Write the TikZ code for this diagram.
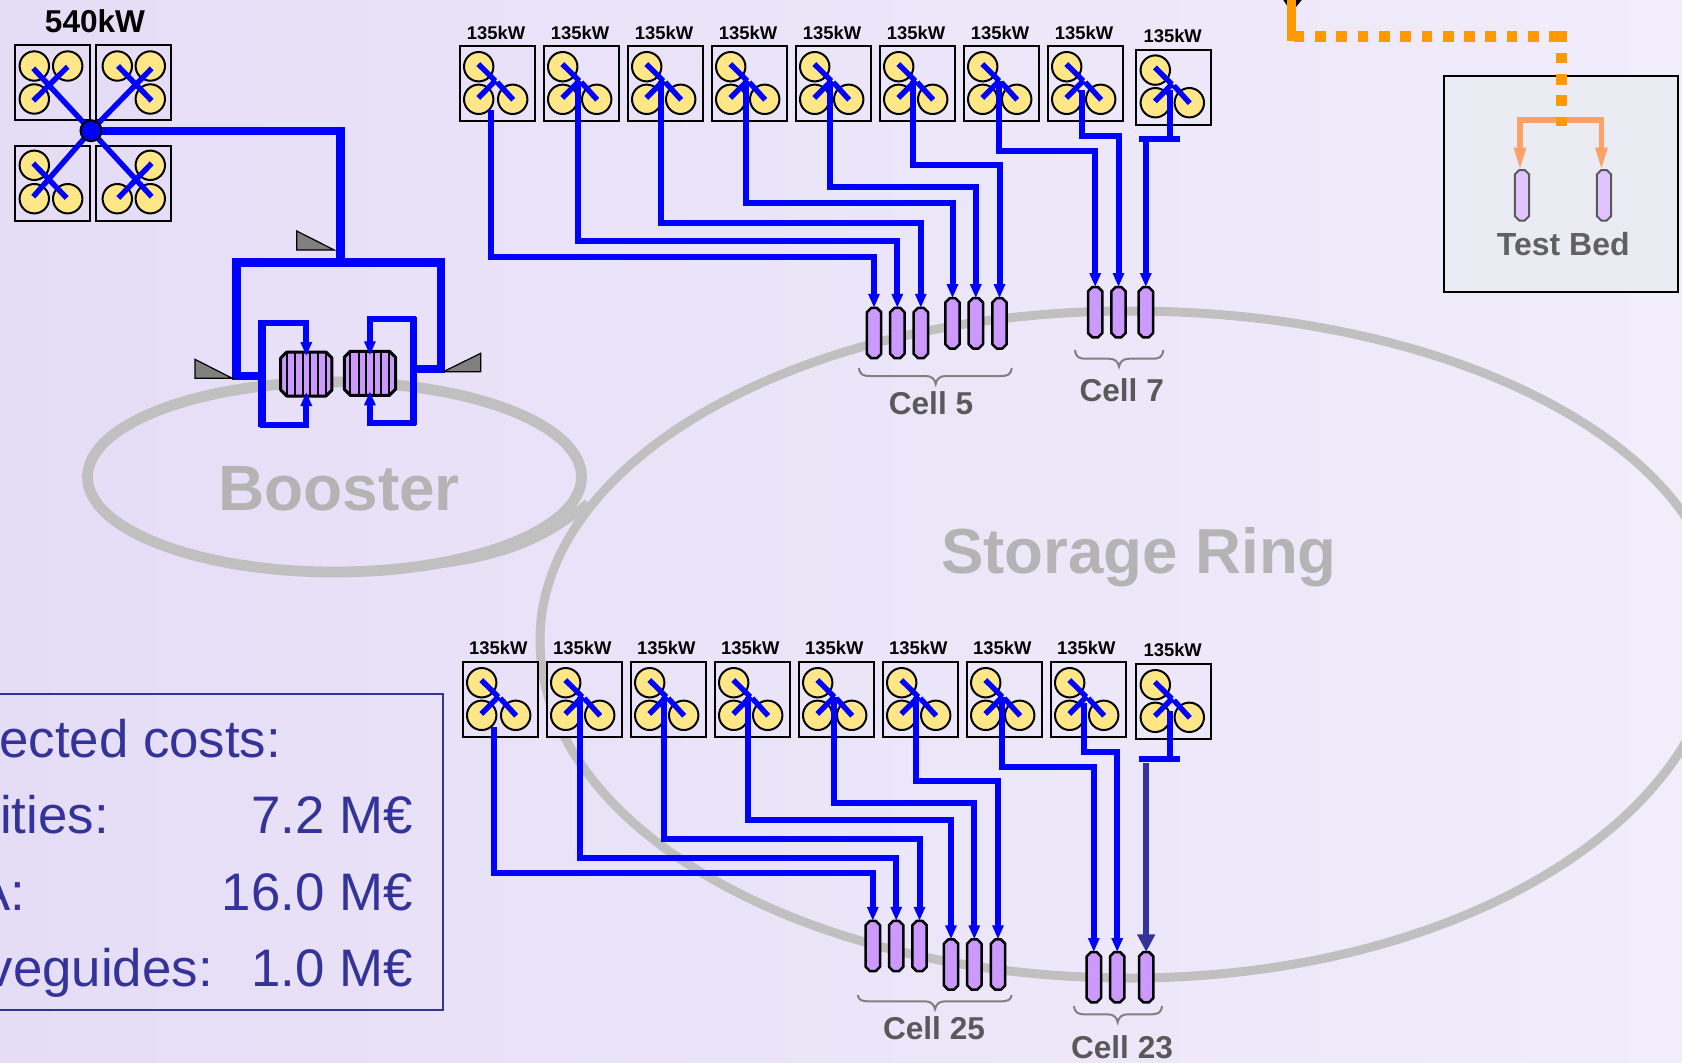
\documentclass[tikz,border=0pt]{standalone}
\usepackage{fontspec}
\setmainfont{Liberation Sans}
\usetikzlibrary{arrows.meta}
\definecolor{bgL}{HTML}{E5DDF6}
\definecolor{bgR}{HTML}{F1EDFB}
\definecolor{ringgray}{HTML}{C0C0C0}
\definecolor{ringtext}{HTML}{B4B4B4}
\definecolor{celltext}{HTML}{595959}
\definecolor{lobeyellow}{HTML}{FFE788}
\definecolor{cavpurple}{HTML}{CC99FF}
\definecolor{wgblue}{HTML}{0000FF}
\definecolor{navy}{HTML}{333399}
\definecolor{wgorange}{HTML}{FF9900}
\definecolor{paleorange}{HTML}{FFA066}
\definecolor{bedfill}{HTML}{EBEBF3}
\definecolor{bedcav}{HTML}{E0C4FF}
\tikzset{
  txt/.style={inner sep=0pt,outer sep=0pt,anchor=base},
  title540/.style={txt,font=\bfseries\fontsize{15.8}{16}\selectfont,text=black},
  lab135/.style={txt,font=\bfseries\fontsize{9.2}{10}\selectfont,text=black},
  celllab/.style={txt,font=\bfseries\fontsize{15.8}{16}\selectfont,text=celltext},
  ringlab/.style={txt,font=\bfseries\fontsize{#1}{#1}\selectfont,text=ringtext},
  costlab/.style={inner sep=0pt,outer sep=0pt,anchor=base east,font=\fontsize{26.4}{27}\selectfont,text=navy},
  ampframe/.style={draw=black,line width=1pt,minimum size=37.5pt,inner sep=0pt,outer sep=0pt,anchor=north west},
  lobe/.style={draw=black,line width=1pt,fill=lobeyellow},
  arm/.style={draw=wgblue,line width=2.7pt},
  feedline/.style={draw=wgblue,line width=3pt},
  feedarrow/.style={feedline,-{Triangle[length=7pt,width=5.4pt]}},
  mainline/.style={draw=wgblue,line width=4.2pt},
  cavbox/.style={rectangle,minimum width=7.2pt,minimum height=25.2pt,inner sep=0pt,outer sep=0pt},
  bigcavbox/.style={rectangle,minimum width=25.6pt,minimum height=22pt,inner sep=0pt,outer sep=0pt},
  cavshape/.style={draw=black,line width=1.25pt,fill=cavpurple,line join=round},
  bigcavshape/.style={draw=black,line width=1.5pt,fill=cavpurple,line join=round},
  bedcavshape/.style={draw=black!65,line width=1pt,fill=bedcav,line join=round},
  cavbar/.style={draw=black,line width=1pt},
  wedge/.style={draw=black,line width=.6pt,fill=gray},
  ring/.style={draw=ringgray,line width=4.5pt},
  bracket/.style={draw=gray,line width=1pt},
  dotorange/.style={draw=wgorange,line width=5.3pt,dash pattern=on 5.35pt off 5.3pt},
  paleline/.style={draw=paleorange,line width=2.9pt,shorten >=-1pt,-{Triangle[length=12.2pt,width=5.3pt]}},
}
\newcommand{\octagonon}[3]{%
  \draw[#1] ([xshift=#3]#2.north west) -- ([xshift=-#3]#2.north east) -- ([yshift=-#3]#2.north east)
    -- ([yshift=#3]#2.south east) -- ([xshift=-#3]#2.south east) -- ([xshift=#3]#2.south west)
    -- ([yshift=#3]#2.south west) -- ([yshift=-#3]#2.north west) -- cycle;
}
\newcommand{\ampunit}[3]{%
  \pgfmathtruncatemacro{\mixpct}{(#2)/16.82}%
  \node[ampframe,fill=bgR!\mixpct!bgL] (#1) at (#2+1,#3+1) {};
  \draw[lobe] (#2+20,#3+21.4) circle[radius=14.7];
  \draw[lobe] (#2+20,#3+54) circle[radius=14.7];
  \draw[lobe] (#2+54,#3+54) circle[radius=14.7];
  \draw[arm] (#2+19.6,#3+18.7) -- (#2+36.5,#3+35.5);
  \draw[arm] (#2+19.6,#3+52.7) -- (#2+37,#3+35);
  \draw[arm] (#2+38.6,#3+37) -- (#2+54.5,#3+54.5);
}
\newcommand{\cellbrace}[5]{%
  \draw[bracket] (#1,#4) .. controls (#1+1,#5-9) and (#1+4,#5-8) .. (#1+12,#5-8) -- (#2-10,#5-8)
    .. controls (#2-4,#5-8) and (#2-1,#5-5) .. (#2,#5)
    .. controls (#2+1,#5-5) and (#2+4,#5-8) .. (#2+10,#5-8) -- (#3-12,#5-8)
    .. controls (#3-4,#5-8) and (#3-1,#5-9) .. (#3,#4);
}
\begin{document}
\begin{tikzpicture}[x=0.5pt,y=-0.5pt]
\useasboundingbox (0,0) rectangle (1682,1062);
\clip (0,0) rectangle (1682,1062);
\shade[left color=bgL,right color=bgR] (0,0) rectangle (1682,1062);

% rings
\draw[ring] (540,640) .. controls (540,458) and (804,311) .. (1130,311)
  .. controls (1456,311) and (1720,450) .. (1720,622)
  .. controls (1720,819) and (1456,978) .. (1130,978)
  .. controls (804,978) and (540,827) .. (540,640) -- cycle;
\draw[ring,line width=5.4pt] (334.5,477) ellipse [x radius=247,y radius=95];
\draw[ring] (430,565) .. controls (490,558) and (540,545) .. (588,503);
\node[ringlab=32] (boosterlab) at (339,510.6) {Booster};
\node[ringlab=31.8] (storagelab) at (1139,573) {Storage Ring};

% 540 kW station
\node[title540] (t540) at (95,32.7) {540kW};
\node[ampframe,fill=bgL] (q1) at (15,45) {};
\node[ampframe,fill=bgL] (q2) at (96,45) {};
\node[ampframe,fill=bgL] (q3) at (15,145.5) {};
\node[ampframe,fill=bgL] (q4) at (96,145.5) {};
\foreach \lx/\ly in {34.3/66,67.7/66,34.3/99,117.3/66,150.3/66,150.3/99,34.3/165.3,34.3/198.7,67.7/198.7,150.3/165.3,117.3/198.7,150.3/198.7}
  \draw[lobe] (\lx,\ly) circle[radius=14.7];
\coordinate (hubc) at (91,130.7);
\draw[arm] (hubc) -- (33.3,68.3);
\draw[arm] (67.7,66.7) -- (33.3,100.7);
\draw[arm] (hubc) -- (151.7,68.3);
\draw[arm] (118,66) -- (151.7,100.7);
\draw[arm] (hubc) -- (33.3,196.7);
\draw[arm] (33.3,163.3) -- (66.7,198);
\draw[arm] (hubc) -- (151.7,196.7);
\draw[arm] (151.7,163.3) -- (118.3,198);
\node[circle,draw=black,line width=1pt,fill=wgblue,minimum size=10.5pt,inner sep=0pt,outer sep=0pt] (hub) at (hubc) {};

% booster power splitting
\node[bigcavbox] (cavL) at (306.3,374) {};
\octagonon{bigcavshape}{cavL}{3pt}
\node[bigcavbox] (cavR) at (369.9,373.3) {};
\octagonon{bigcavshape}{cavR}{3pt}
\foreach \bx in {286.7,295,302.7,310,317.7,325.7} {
  \draw[cavbar] (\bx,352.5) -- (\bx,395.5);
  \draw[cavbar] (\bx+63.7,352) -- (\bx+63.7,395);
}
\coordinate (split) at (340.5,262.5);
\coordinate (loopL) at (262,376);
\coordinate (loopR) at (413.5,369);
\draw[mainline] (hub.east) -| (split);
\draw[mainline] (loopL) -- (236.5,376) -- (236.5,262.5) -- (441,262.5) -- (441,369) -- (loopR);
\draw[mainline,line width=3.9pt] (262,320) -- (loopL) -- (262,427);
\draw[mainline,line width=3.9pt] (413.5,316.5) -- (loopR) -- (413.5,425);
\draw[feedarrow,shorten >=-2pt] (260,322.5) -| (cavL.north);
\draw[feedarrow,shorten >=-2pt] (260,425) -| (cavL.south);
\draw[feedarrow,shorten >=-2pt] (415.5,319) -| (cavR.north);
\draw[feedarrow,shorten >=-2pt] (415.5,423) -| (cavR.south);
\draw[wedge] (296.7,231) -- (296.7,250) -- (334.3,250) -- cycle;
\draw[wedge] (195,359.3) -- (195,378.3) -- (232.3,378.3) -- cycle;
\draw[wedge] (480.7,353.3) -- (480.7,371.7) -- (443.3,371.7) -- cycle;

% top row
\foreach \i in {0,...,7} {
  \ampunit{amp\i}{458.7+84*\i}{45.3}
  \node[lab135] (ampt\i) at (496+84*\i,39.3) {135kW};
}
\ampunit{amp8}{1135.3}{48.7}
\node[lab135] (ampt8) at (1172.7,42) {135kW};

% bottom row
\foreach \i in {0,...,7} {
  \ampunit{bmp\i}{461.7+84*\i}{661.3}
  \node[lab135] (bmpt\i) at (498.3+84*\i,654.6) {135kW};
}
\ampunit{bmp8}{1135.3}{663.3}
\node[lab135] (bmpt8) at (1172.7,656.7) {135kW};

% cavities, top
\foreach \n/\cx/\cy in {1/874/333,2/897.3/333,3/920.8/333,4/952.5/323.3,5/975.8/323.3,6/999.5/323.3,7/1095.2/312.2,8/1118.5/312.2,9/1145.8/312.2} {
  \node[cavbox] (tc\n) at (\cx,\cy) {};
  \octagonon{cavshape}{tc\n}{2.2pt}
}
% cavities, bottom
\foreach \n/\cx/\cy in {1/872.8/946,2/896.2/946,3/919.5/946,4/951/964.5,5/974.3/964.5,6/998/964.5,7/1093.8/977.2,8/1117.2/977.2,9/1146.2/977.2} {
  \node[cavbox] (bc\n) at (\cx,\cy) {};
  \octagonon{cavshape}{bc\n}{2.2pt}
}

% feeds, top
\foreach \i/\sx/\sy/\c/\hy in {0/491/110/1/257.3,1/577.7/81/2/241.4,2/661.3/81/3/223.3,3/745.7/81/4/203.3,4/829.7/81/5/187.3,5/913.3/81/6/165.3,6/999.3/81/7/151.3,7/1081.7/90/8/135.7} {
  \coordinate (ts\i) at (\sx,\sy);
  \draw[feedarrow] (ts\i) |- (tc\c.north |- 0,\hy) -- (tc\c.north);
}
\coordinate (tbar) at (1170,139);
\draw[feedline] (1170,90) -- (tbar);
\draw[feedline,line width=3.3pt] (1139,139) -- (1180,139);
\draw[feedarrow] (tc9.north |- tbar) -- (tc9.north);

% feeds, bottom
\foreach \i/\sx/\sy/\c/\hy in {0/494/727/1/873.3,1/580/697/2/857.7,2/664/697/3/839.3,3/748/697/4/819.8,4/834/697/5/803.3,5/916.3/697/6/781.3,6/1002/697/7/767.3,7/1084/703.3/8/751.7} {
  \coordinate (bs\i) at (\sx,\sy);
  \draw[feedarrow] (bs\i) |- (bc\c.north |- 0,\hy) -- (bc\c.north);
}
\coordinate (bbar) at (1170,759);
\draw[feedline] (1170,711) -- (bbar);
\draw[feedline,line width=3.3pt] (1138.7,759) -- (1180,759);
\coordinate (bfree) at (1146.2,763.3);
\draw[draw=navy,line width=3pt,-{Triangle[length=8.8pt,width=8.5pt]}] (bfree) -- (bc9.north);

% braces and cell names
\cellbrace{859}{935.7}{1011.7}{368}{384}
\cellbrace{1075}{1119}{1163.3}{350}{366.7}
\cellbrace{857.7}{935}{1011.7}{995}{1009.3}
\cellbrace{1074}{1117.7}{1162}{1006}{1022.3}
\node[celllab] (cell5) at (931,414) {Cell 5};
\node[celllab] (cell7) at (1121.7,401.7) {Cell 7};
\node[celllab] (cell25) at (934,1039) {Cell 25};
\node[celllab] (cell23) at (1122,1058) {Cell 23};

% test bed
\node[rectangle,draw=black,line width=1pt,fill=bedfill,minimum width=117pt,minimum height=107.7pt,inner sep=0pt,outer sep=0pt] (bed) at (1561.3,183.8) {};
\node[cavbox] (tb1) at (1522,195.3) {};
\octagonon{bedcavshape}{tb1}{2.2pt}
\node[cavbox] (tb2) at (1604,195.3) {};
\octagonon{bedcavshape}{tb2}{2.2pt}
\node[txt,font=\bfseries\fontsize{16}{16}\selectfont,text=black!62] (bedlab) at (1563.3,255) {Test Bed};
\coordinate (bedsplit) at (1561.7,120);
\draw[paleline] (bedsplit) -| ([xshift=-1pt]tb1.north);
\draw[paleline] (bedsplit) -| ([xshift=-1.3pt]tb2.north);
\fill[black] (1283.3,0) -- (1301.7,0) -- (1296,7) -- (1288,7) -- cycle;
\coordinate (orgfree) at (1291.7,-5);
\coordinate (orgbend) at (1291.7,36.7);
\coordinate (orgcorner) at (1561.7,36.7);
\draw[draw=wgorange,line width=4.6pt] (orgfree) -- (1291.7,41);
\draw[dotorange] (1293.7,36.7) -- (1561,36.7);
\draw[dotorange] (1561.7,31.3) -- (bedsplit |- 0,126);

% cost box
\draw[draw=navy,line width=1pt] (-5,694) rectangle (443.3,1010);
\node[costlab] (c1) at (281,757.3) {ected costs:};
\node[costlab] (c2) at (108.8,833.3) {ities:};
\node[costlab] (c3) at (25.5,910) {A:};
\node[costlab] (c4) at (212.8,986.7) {veguides:};
\node[costlab] (v2) at (412.7,833.3) {7.2 M€};
\node[costlab] (v3) at (412.7,910) {16.0 M€};
\node[costlab] (v4) at (412.7,986.7) {1.0 M€};
\end{tikzpicture}
\end{document}
